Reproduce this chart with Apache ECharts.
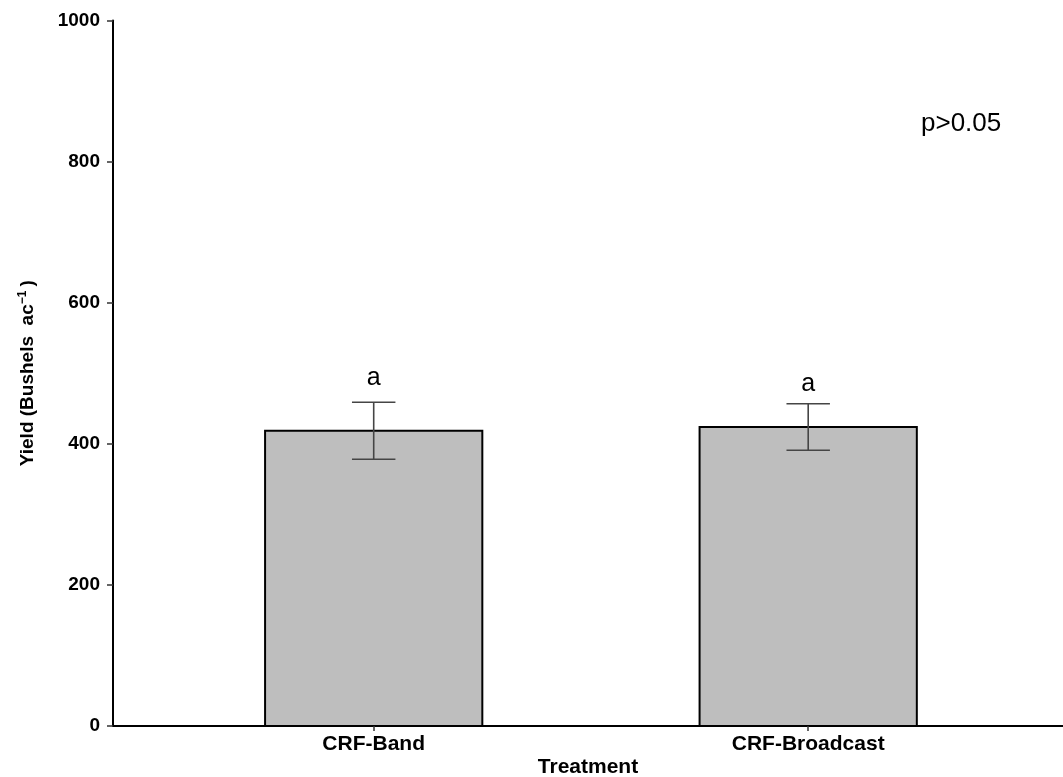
<!DOCTYPE html>
<html>
<head>
<meta charset="utf-8">
<script src="https://cdn.jsdelivr.net/npm/echarts@6/dist/echarts.min.js"></script>
<style>
  html, body { margin: 0; padding: 0; background: #ffffff; }
  #chart { width: 1063px; height: 777px; }
</style>
</head>
<body>
<div id="chart"></div>
<script>
// Treatments and mean yield with standard error
const categories = ['CRF-Band', 'CRF-Broadcast'];
const yieldMean = [418.5, 423.8];
const yieldSE = [40.5, 33.0];
// Significance letters and the height they sit at
const letters = ['a', 'a'];
const letterY = [493, 485];
const yTicks = [0, 200, 400, 600, 800, 1000];

const FONT = '"Liberation Sans", Arial, sans-serif';
const BAR_HALF = 0.25;   // half bar width in category units
const CAP_HALF = 0.05;   // half error-bar cap width

const barData = categories.map((c, i) => [i + 1, yieldMean[i]]);
const errData = categories.map((c, i) => [i + 1, yieldMean[i] - yieldSE[i], yieldMean[i] + yieldSE[i]]);
const letterData = categories.map((c, i) => [i + 1, letterY[i], letters[i]]);

const chart = echarts.init(document.getElementById('chart'), null, { renderer: 'canvas' });

chart.setOption({
  animation: false,
  backgroundColor: '#ffffff',
  grid: { left: 113, right: 0, top: 20.5, bottom: 51, containLabel: false, outerBoundsMode: 'none' },
  xAxis: {
    type: 'value',
    min: 0.4,
    max: 0.4 + (1063 - 113) / 434.5,
    name: 'Treatment',
    nameLocation: 'middle',
    nameGap: 31,
    nameMoveOverlap: false,
    nameTextStyle: { fontFamily: FONT, fontWeight: 'bold', fontSize: 21, color: '#000' },
    splitLine: { show: false },
    axisLine: { show: true, onZero: false, lineStyle: { color: '#000', width: 2 } },
    axisTick: { show: true, length: 5, customValues: [1, 2], lineStyle: { color: '#333', width: 1.5 } },
    axisLabel: {
      customValues: [1, 2],
      margin: 8,
      fontFamily: FONT, fontWeight: 'bold', fontSize: 21, color: '#000',
      formatter: v => categories[Math.round(v) - 1] || ''
    }
  },
  yAxis: {
    type: 'value',
    min: yTicks[0],
    max: yTicks[yTicks.length - 1],
    interval: 200,
    name: 'Yield (Bushels  ac{sup|−1})',
    nameLocation: 'middle',
    nameGap: 74,
    nameMoveOverlap: false,
    nameTextStyle: {
      fontFamily: FONT, fontWeight: 'bold', fontSize: 19, color: '#000',
      rich: { sup: { fontFamily: FONT, fontWeight: 'bold', fontSize: 12, verticalAlign: 'top', padding: [0, 4, 10, 0] } }
    },
    splitLine: { show: false },
    axisLine: { show: true, lineStyle: { color: '#000', width: 2 } },
    axisTick: { show: true, length: 6, lineStyle: { color: '#333', width: 1.5 } },
    axisLabel: {
      margin: 13, fontFamily: FONT, fontWeight: 'bold', fontSize: 19, color: '#000',
      formatter: v => String(v)
    }
  },
  graphic: [{
    type: 'text',
    left: 921,
    top: 111,
    style: { text: 'p>0.05', fontFamily: FONT, fontSize: 26, fill: '#000' }
  }],
  series: [
    {
      type: 'custom',
      name: 'mean',
      data: barData,
      clip: true,
      renderItem: (params, api) => {
        const x = api.value(0), y = api.value(1);
        const p0 = api.coord([x - BAR_HALF, y]);
        const p1 = api.coord([x + BAR_HALF, 0]);
        return {
          type: 'rect',
          shape: { x: p0[0], y: p0[1], width: p1[0] - p0[0], height: p1[1] - p0[1] },
          style: { fill: '#bebebe', stroke: '#000', lineWidth: 2 }
        };
      },
      z: 2
    },
    {
      type: 'custom',
      name: 'se',
      data: errData,
      renderItem: (params, api) => {
        const x = api.value(0), lo = api.value(1), hi = api.value(2);
        const top = api.coord([x, hi]);
        const bot = api.coord([x, lo]);
        const capL = api.coord([x - CAP_HALF, hi])[0];
        const capR = api.coord([x + CAP_HALF, hi])[0];
        const st = { stroke: '#454545', lineWidth: 1.6 };
        return {
          type: 'group',
          children: [
            { type: 'line', shape: { x1: top[0], y1: top[1], x2: bot[0], y2: bot[1] }, style: st },
            { type: 'line', shape: { x1: capL, y1: top[1], x2: capR, y2: top[1] }, style: st },
            { type: 'line', shape: { x1: capL, y1: bot[1], x2: capR, y2: bot[1] }, style: st }
          ]
        };
      },
      z: 3
    },
    {
      type: 'custom',
      name: 'letters',
      data: letterData,
      renderItem: (params, api) => {
        const p = api.coord([api.value(0), api.value(1)]);
        return {
          type: 'text',
          x: p[0], y: p[1],
          style: {
            text: letters[params.dataIndex],
            fontFamily: FONT, fontSize: 25, fill: '#000',
            align: 'center', verticalAlign: 'middle'
          }
        };
      },
      z: 4
    }
  ]
});
</script>
</body>
</html>
